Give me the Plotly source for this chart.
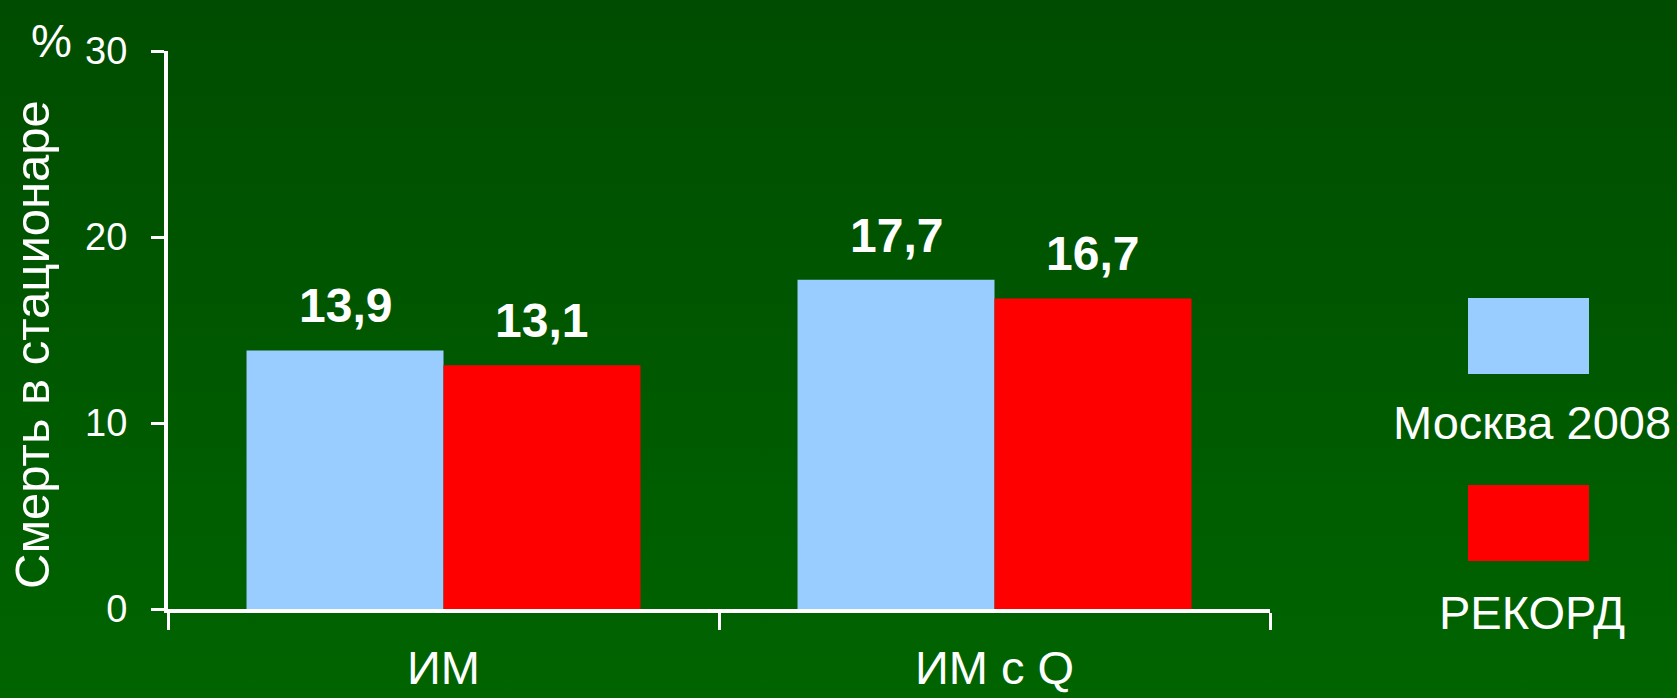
import base64
import plotly.graph_objects as go

# Data
categories = ["ИМ", "ИМ с Q"]
series_names = ["Москва 2008", "РЕКОРД"]
moscow_2008 = [13.9, 17.7]
record = [13.1, 16.7]
y_ticks = [0, 10, 20, 30]

colors = ["#99CCFF", "#FF0000"]
FONT = "Liberation Sans, Arial, sans-serif"
W, H = 1677, 698
L, R, T, B = 168, 407, 51, 89
PW, PH = W - L - R, H - T - B


def px_x(px):
    return (px - L) / PW


def px_y(py):
    return (H - B - py) / PH


fig = go.Figure()
for name, vals, col in zip(series_names, [moscow_2008, record], colors):
    fig.add_trace(go.Bar(
        x=categories, y=vals, name=name, marker=dict(color=col, line=dict(width=0)),
        showlegend=False,
    ))

# value labels above each bar
offsets = [-98, 98]
for vals, dx in zip([moscow_2008, record], offsets):
    for cat, v in zip(categories, vals):
        fig.add_annotation(
            x=cat, y=v, xref="x", yref="y", text=f"<b>{v:.1f}</b>".replace(".", ","),
            showarrow=False, xshift=dx, yanchor="bottom", yshift=16,
            font=dict(family=FONT, size=48, color="white"),
        )

# gradient background
svg = (
    '<svg xmlns="http://www.w3.org/2000/svg" width="10" height="100" preserveAspectRatio="none">'
    '<defs><linearGradient id="g" x1="0" y1="0" x2="0" y2="1">'
    '<stop offset="0" stop-color="#004c00"/><stop offset="1" stop-color="#006400"/>'
    '</linearGradient></defs><rect width="10" height="100" fill="url(#g)"/></svg>'
)
src = "data:image/svg+xml;base64," + base64.b64encode(svg.encode()).decode()
fig.add_layout_image(
    source=src, xref="paper", yref="paper", x=px_x(0), y=px_y(0),
    sizex=W / PW, sizey=H / PH, xanchor="left", yanchor="top",
    sizing="stretch", layer="below",
)

# custom legend: swatch above label
legend_boxes = [(298, 374, 422), (485, 561, 612)]
for name, col, (y0, y1, ty) in zip(series_names, colors, legend_boxes):
    fig.add_shape(type="rect", xref="paper", yref="paper",
                  x0=px_x(1468), x1=px_x(1589), y0=px_y(y1), y1=px_y(y0),
                  fillcolor=col, line=dict(width=0))
    fig.add_annotation(x=px_x(1532), y=px_y(ty), xref="paper", yref="paper",
                       text=name, showarrow=False, xanchor="center", yanchor="middle",
                       font=dict(family=FONT, size=47, color="white"))

# axis title and unit
fig.add_annotation(x=px_x(32), y=px_y(345), xref="paper", yref="paper",
                   text="Смерть в стационаре", textangle=-90, showarrow=False,
                   xanchor="center", yanchor="middle",
                   font=dict(family=FONT, size=49, color="white"))
fig.add_annotation(x=px_x(51), y=px_y(41), xref="paper", yref="paper",
                   text="%", showarrow=False, xanchor="center", yanchor="middle",
                   font=dict(family=FONT, size=46, color="white"))

fig.update_layout(
    width=W, height=H,
    margin=dict(l=L, r=R, t=T, b=B, pad=0, autoexpand=False),
    paper_bgcolor="#005800", plot_bgcolor="rgba(0,0,0,0)",
    barmode="group", bargap=0.285, bargroupgap=0,
    font=dict(family=FONT, color="white"),
    xaxis=dict(
        automargin=False,
        showgrid=False, zeroline=False, showline=True, linecolor="white", linewidth=4,
        ticks="outside", tickson="boundaries", ticklen=17, tickwidth=3, tickcolor="white",
        tickfont=dict(size=47, color="white"), ticklabelstandoff=15,
    ),
    yaxis=dict(
        automargin=False,
        range=[0, 30], tickvals=y_ticks, showgrid=False, zeroline=False,
        showline=True, linecolor="white", linewidth=4,
        ticks="outside", ticklen=13, tickwidth=3, tickcolor="white",
        tickfont=dict(size=38, color="white"), ticklabelstandoff=16,
    ),
)

fig.write_html("out.html")
